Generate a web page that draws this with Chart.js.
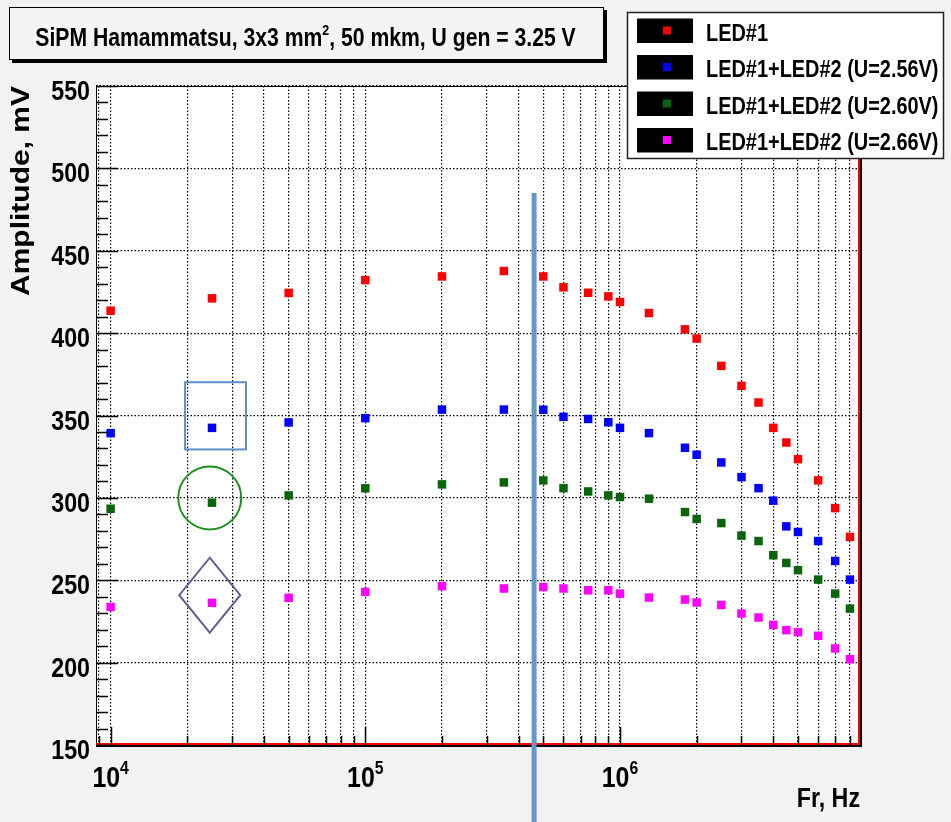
<!DOCTYPE html>
<html>
<head>
<meta charset="utf-8">
<script src="https://cdn.jsdelivr.net/npm/chart.js@4.4.1/dist/chart.umd.min.js"></script>
<style>
html,body{margin:0;padding:0;background:#f2f2f2}
#wrap{width:951px;height:822px;position:relative}
</style>
</head>
<body>
<div id="wrap"><canvas id="chart"></canvas></div>
<script>
// data (Fr in Hz, amplitude in mV)
const FREQ = [1e4, 2.5e4, 5e4, 1e5, 2e5, 3.5e5, 5e5, 6e5, 7.5e5, 9e5, 1e6, 1.3e6, 1.8e6, 2e6, 2.5e6, 3e6, 3.5e6, 4e6, 4.5e6, 5e6, 6e6, 7e6, 8e6];
const LED1      = [413.6, 421.1, 424.4, 432.2, 434.4, 437.7, 434.4, 427.8, 424.5, 422.3, 418.9, 412.2, 402.3, 396.7, 380.1, 368.0, 357.9, 342.5, 333.6, 323.5, 310.6, 293.8, 276.3];
const LED12_256 = [339.3, 342.5, 345.8, 348.4, 353.6, 353.6, 353.5, 349.2, 347.9, 345.9, 342.5, 339.3, 330.4, 326.2, 321.5, 312.6, 305.9, 298.3, 282.7, 279.3, 273.8, 261.7, 250.4];
const LED12_260 = [293.4, 297.1, 301.5, 305.8, 308.2, 309.4, 310.6, 305.9, 303.9, 301.5, 300.5, 299.5, 291.4, 287.2, 284.7, 277.1, 273.8, 265.2, 260.5, 256.1, 250.4, 241.9, 232.8];
const LED12_266 = [233.8, 236.3, 239.3, 242.9, 246.4, 245.0, 245.9, 245.0, 243.9, 243.9, 241.9, 239.5, 238.3, 236.5, 235.0, 229.8, 227.4, 222.9, 219.7, 218.5, 216.3, 208.6, 202.1];

const SERIES_LABELS = ['LED#1', 'LED#1+LED#2 (U=2.56V)', 'LED#1+LED#2 (U=2.60V)', 'LED#1+LED#2 (U=2.66V)'];
const Y_TICKS = [150, 200, 250, 300, 350, 400, 450, 500, 550];
const X_DECADES = [1e4, 1e5, 1e6];
const X_EXPONENTS = ['4', '5', '6'];
const X_GRID = [9e3, 1e4, 2e4, 3e4, 4e4, 5e4, 6e4, 7e4, 8e4, 9e4, 1e5, 2e5, 3e5, 4e5, 5e5, 6e5, 7e5, 8e5, 9e5, 1e6, 2e6, 3e6, 4e6, 5e6, 6e6, 7e6, 8e6];
const TITLE_PARTS = ['SiPM Hamammatsu, 3x3 mm', '2', ', 50 mkm, U gen = 3.25 V'];
const X_TITLE = 'Fr, Hz';
const Y_TITLE = 'Amplitude, mV';

const COLORS = ['#ff0000', '#0000ff', '#0a640a', '#ff00ff'];
const FONT = '"Liberation Sans", Arial, sans-serif';
const SX = 0.83; // the picture is squeezed sideways

function $(id){return document.getElementById(id)}

function txt(ctx, s, x, y, size, align){
  ctx.save();
  ctx.translate(x, y);
  ctx.scale(SX, 1);
  ctx.font = 'bold ' + size + 'px ' + FONT;
  ctx.textAlign = align || 'left';
  ctx.textBaseline = 'alphabetic';
  ctx.fillStyle = '#000';
  ctx.fillText(s, 0, 0);
  ctx.restore();
}
function txtWidth(ctx, s, size){
  ctx.save();
  ctx.font = 'bold ' + size + 'px ' + FONT;
  const w = ctx.measureText(s).width * SX;
  ctx.restore();
  return w;
}

const series = [LED1, LED12_256, LED12_260, LED12_266];
const datasets = series.map((vals, i) => ({
  label: SERIES_LABELS[i],
  data: FREQ.map((f, k) => ({x: f, y: vals[k]})),
  showLine: false,
  pointStyle: 'rect',
  pointRadius: 6,
  pointBorderWidth: 0,
  backgroundColor: COLORS[i],
  borderColor: COLORS[i],
}));

const decor = {
  id: 'decor',
  beforeDraw(chart){
    const {ctx, chartArea: a} = chart;
    ctx.save();
    ctx.fillStyle = '#fff';
    ctx.fillRect(a.left, a.top, a.right - a.left, a.bottom - a.top);
    ctx.restore();
  },
  afterDatasetsDraw(chart){
    const {ctx, scales: {x, y}} = chart;
    ctx.save();
    ctx.lineWidth = 2;
    // blue square
    ctx.strokeStyle = '#5e8fc6';
    const x0 = x.getPixelForValue(1.96e4), x1 = x.getPixelForValue(3.4e4);
    const y0 = y.getPixelForValue(370.2), y1 = y.getPixelForValue(329.4);
    ctx.strokeRect(x0, y0, x1 - x0, y1 - y0);
    // green circle
    ctx.strokeStyle = '#1f8f1f';
    ctx.beginPath();
    ctx.arc(x.getPixelForValue(2.45e4), y.getPixelForValue(300), 31.5, 0, Math.PI * 2);
    ctx.stroke();
    // purple diamond
    ctx.strokeStyle = '#6b5b95';
    const cx = x.getPixelForValue(2.45e4), cy = y.getPixelForValue(240.9);
    ctx.beginPath();
    ctx.moveTo(cx, cy - 37.5); ctx.lineTo(cx + 30.5, cy); ctx.lineTo(cx, cy + 37.5); ctx.lineTo(cx - 30.5, cy);
    ctx.closePath();
    ctx.stroke();
    ctx.restore();
  },
  afterDraw(chart){
    const {ctx, chartArea: a, scales: {x, y}} = chart;
    ctx.save();
    // frame
    ctx.strokeStyle = '#000'; ctx.lineWidth = 1;
    ctx.strokeRect(a.left + 0.5, a.top + 0.5, a.right - a.left - 1, a.bottom - a.top - 1);
    ctx.lineWidth = 2;
    ctx.strokeStyle = '#ff0000';
    ctx.beginPath(); ctx.moveTo(a.left, a.bottom - 1); ctx.lineTo(a.right - 1, a.bottom - 1); ctx.lineTo(a.right - 1, a.top); ctx.stroke();
    ctx.strokeStyle = '#000';
    ctx.beginPath(); ctx.moveTo(a.left, a.bottom + 1); ctx.lineTo(a.right + 1, a.bottom + 1); ctx.lineTo(a.right + 1, a.top); ctx.stroke();

    // y ticks (inside)
    ctx.lineWidth = 1.5;
    for(let v = 150; v <= 550; v += 10){
      const py = Math.round(y.getPixelForValue(v)) + 0.5;
      const len = v % 50 === 0 ? 22 : 12;
      ctx.beginPath(); ctx.moveTo(a.left, py); ctx.lineTo(a.left + len, py); ctx.stroke();
    }
    // x ticks (inside, from bottom)
    X_GRID.forEach(v => {
      const px = Math.round(x.getPixelForValue(v)) + 0.5;
      const len = X_DECADES.includes(v) ? 18 : 9;
      ctx.beginPath(); ctx.moveTo(px, a.bottom); ctx.lineTo(px, a.bottom - len); ctx.stroke();
    });

    // tick labels
    Y_TICKS.forEach(v => txt(ctx, String(v), 90, y.getPixelForValue(v) + 14, 28, 'right'));
    X_DECADES.forEach((v, i) => {
      const w1 = txtWidth(ctx, '10', 30), w2 = txtWidth(ctx, X_EXPONENTS[i], 19);
      const start = x.getPixelForValue(v) - (w1 + w2) / 2;
      txt(ctx, '10', start, 787, 30, 'left');
      txt(ctx, X_EXPONENTS[i], start + w1, 774, 19, 'left');
    });

    // axis titles
    txt(ctx, X_TITLE, a.right, 807, 28, 'right');
    ctx.save();
    ctx.translate(28.5, a.top);
    ctx.scale(SX, 1);
    ctx.rotate(-Math.PI / 2);
    ctx.font = 'bold 30px ' + FONT;
    ctx.textAlign = 'right';
    ctx.fillStyle = '#000';
    ctx.fillText(Y_TITLE, 0, 0);
    ctx.restore();

    // title pave
    ctx.fillStyle = '#000';
    ctx.fillRect(12, 10, 595, 53);
    ctx.fillStyle = '#f4f4f4';
    ctx.fillRect(9, 7, 595, 53);
    ctx.strokeStyle = '#000'; ctx.lineWidth = 1;
    ctx.strokeRect(9.5, 7.5, 594, 52);
    const tw0 = txtWidth(ctx, TITLE_PARTS[0], 25.5), tw1 = txtWidth(ctx, TITLE_PARTS[1], 15), tw2 = txtWidth(ctx, TITLE_PARTS[2], 25.5);
    let tx = 305.5 - (tw0 + tw1 + tw2) / 2;
    txt(ctx, TITLE_PARTS[0], tx, 46, 25.5); tx += tw0;
    txt(ctx, TITLE_PARTS[1], tx, 35, 15); tx += tw1;
    txt(ctx, TITLE_PARTS[2], tx, 46, 25.5);

    // legend
    ctx.fillStyle = '#fff';
    ctx.fillRect(627, 12, 317, 147);
    ctx.strokeStyle = '#222'; ctx.lineWidth = 1.5;
    ctx.strokeRect(627.5, 12.5, 316, 146);
    chart.data.datasets.forEach((ds, i) => {
      const cy = 30.5 + i * 36.5;
      ctx.fillStyle = '#000';
      ctx.fillRect(637, cy - 12, 56, 24.5);
      ctx.fillStyle = ds.backgroundColor;
      ctx.fillRect(663, cy - 4, 8, 8);
      txt(ctx, ds.label, 706, cy + 10, 24, 'left');
    });

    // blue marker line
    const lx = x.getPixelForValue(4.6e5);
    ctx.strokeStyle = '#6496c8'; ctx.lineWidth = 5;
    ctx.beginPath(); ctx.moveTo(lx, y.getPixelForValue(485)); ctx.lineTo(lx, chart.height); ctx.stroke();
    ctx.restore();
  }
};

const chart = new Chart($('chart').getContext('2d'), {
  type: 'scatter',
  data: { datasets },
  options: {
    responsive: true,
    maintainAspectRatio: false,
    animation: false,
    layout: { padding: { top: 86, right: 91, left: 0, bottom: 0 } },
    plugins: { legend: { display: false }, tooltip: { enabled: false } },
    scales: {
      x: {
        type: 'logarithmic',
        min: 8760, max: 8.76e6,
        afterBuildTicks: s => { s.ticks = X_GRID.map(v => ({value: v})); },
        afterFit: s => { s.height = 77; },
        ticks: { display: false },
        grid: { color: '#000', lineWidth: 1.2, drawTicks: false },
        border: { display: false, dash: [1.5, 2] }
      },
      y: {
        min: 150, max: 550,
        afterBuildTicks: s => { s.ticks = Y_TICKS.map(v => ({value: v})); },
        afterFit: s => { s.width = 96; },
        ticks: { display: false },
        grid: { color: '#000', lineWidth: 1.2, drawTicks: false },
        border: { display: false, dash: [1.5, 2] }
      }
    }
  },
  plugins: [decor]
});
</script>
</body>
</html>
